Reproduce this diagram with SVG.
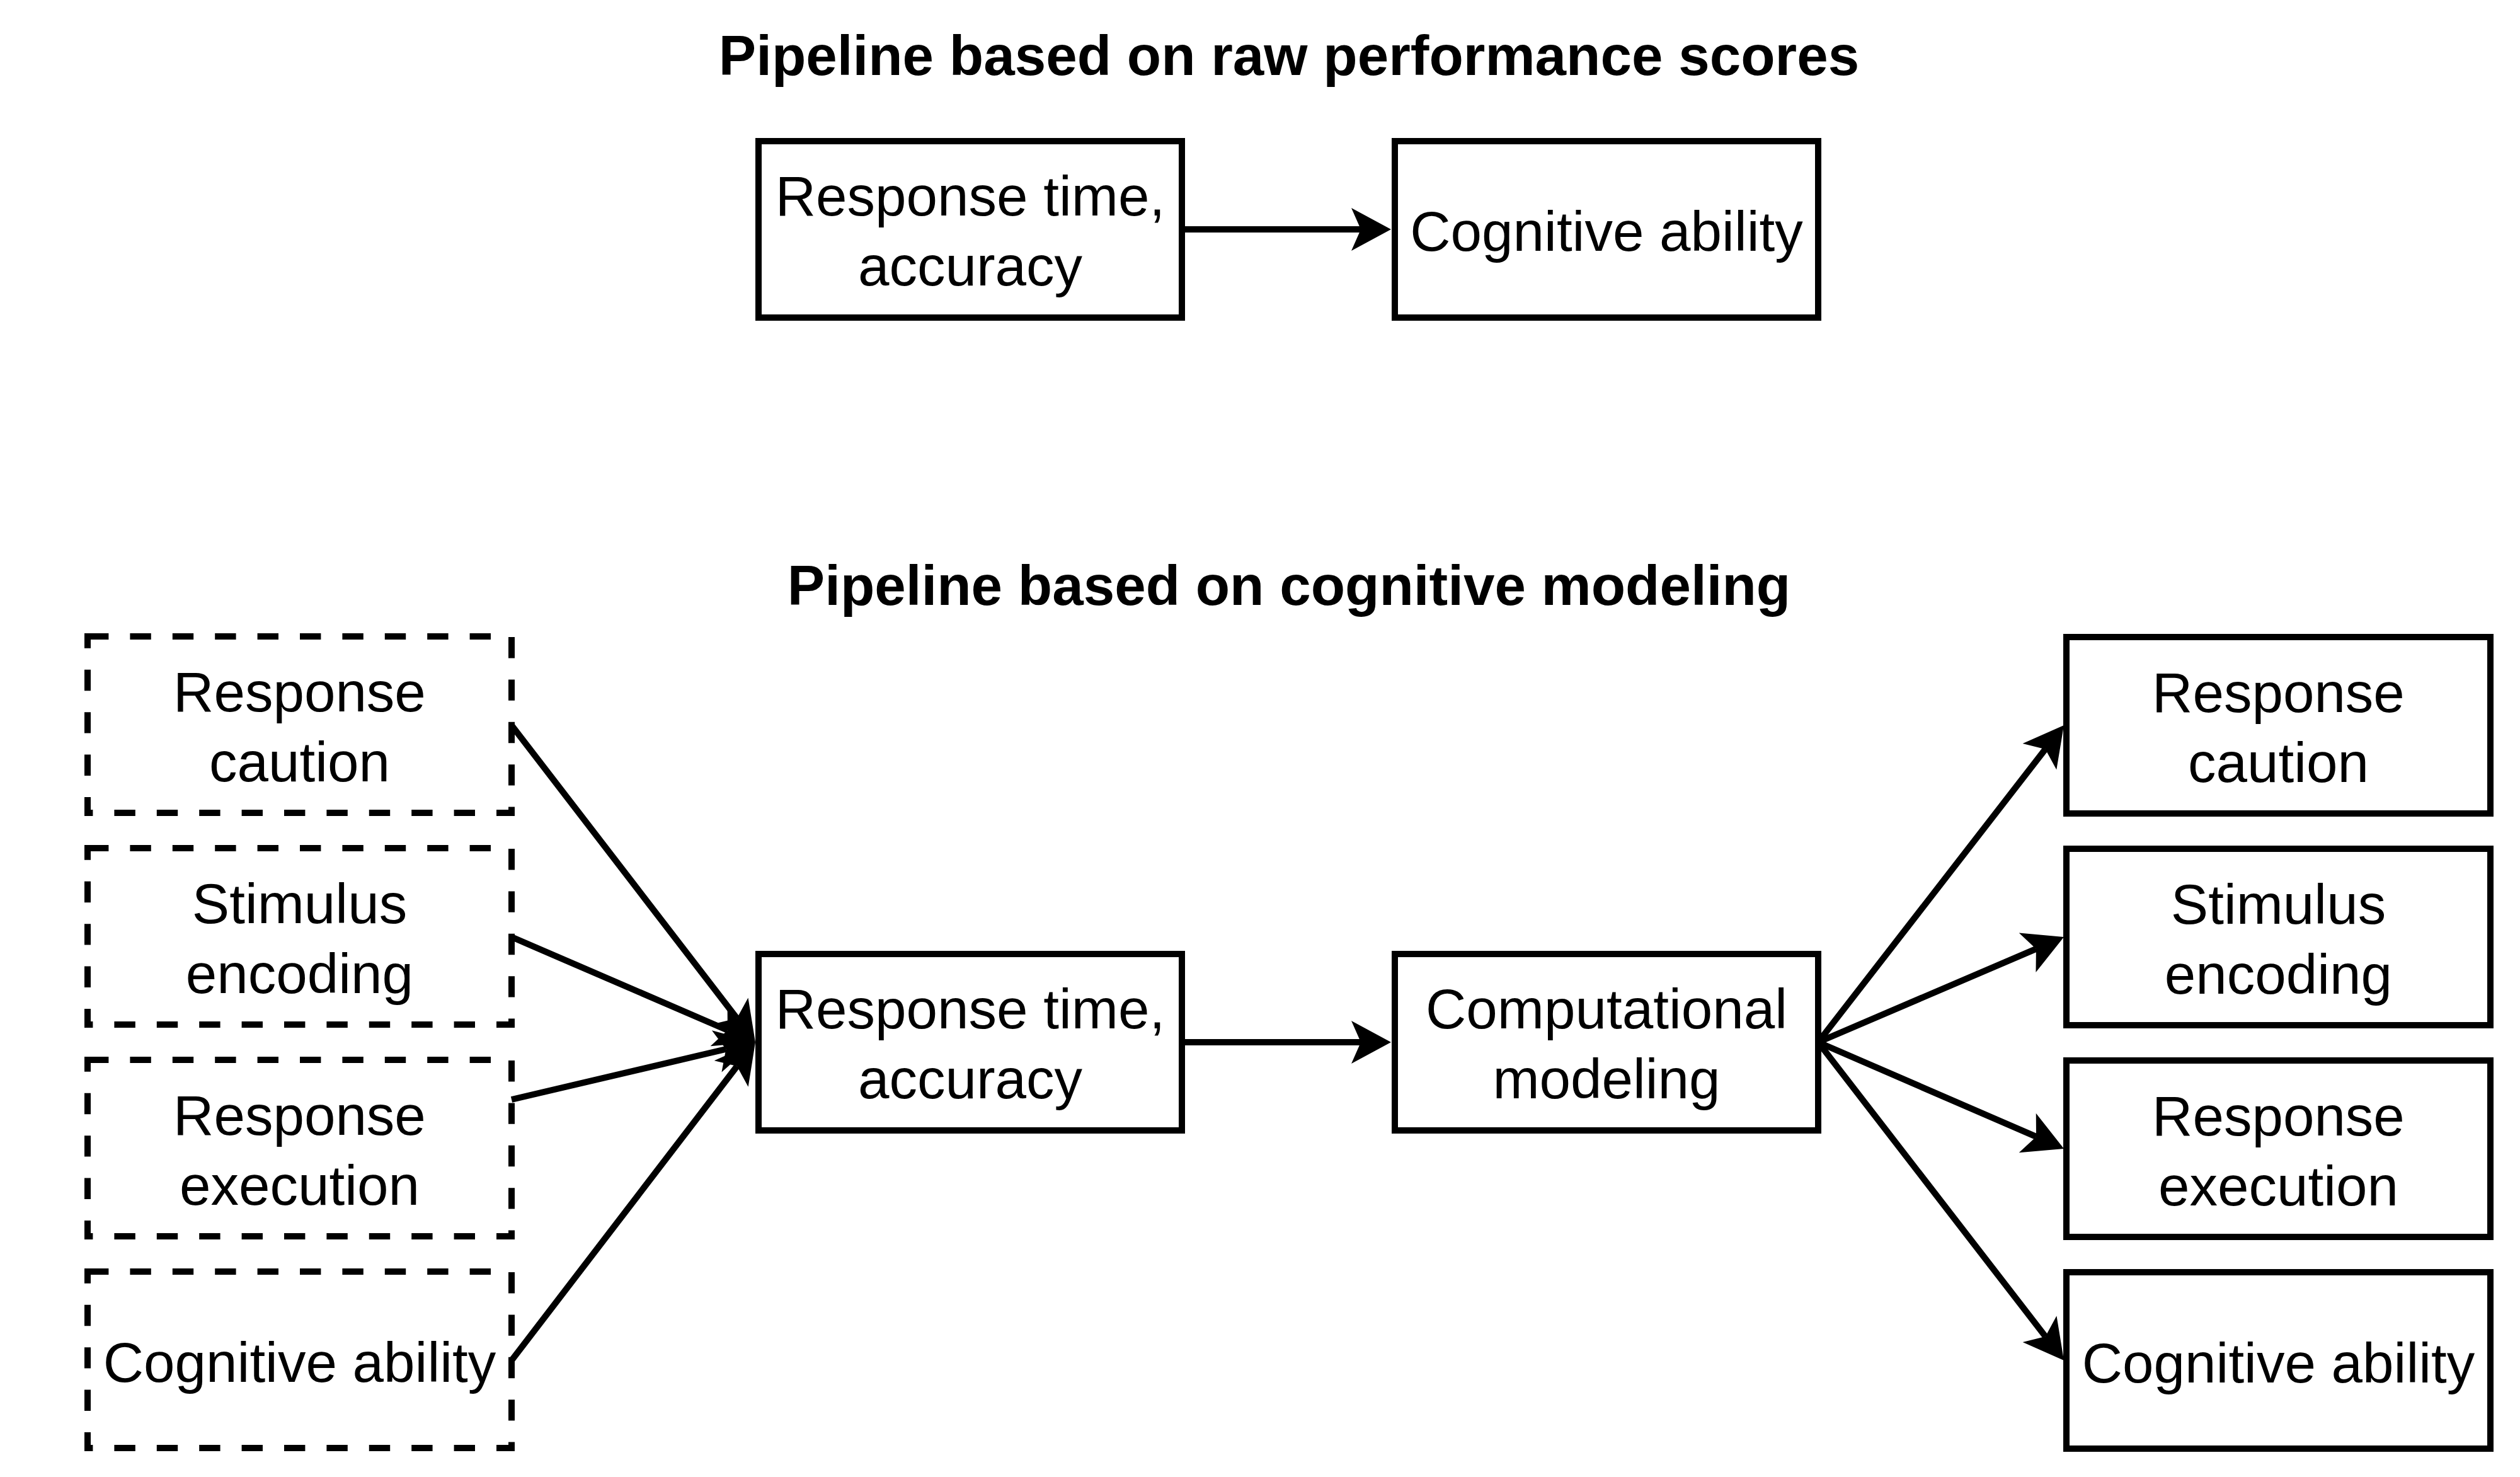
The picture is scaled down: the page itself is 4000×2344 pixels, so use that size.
<svg xmlns="http://www.w3.org/2000/svg" width="4000" height="2344" viewBox="0 0 4000 2344">
  <style>
    .box { fill: #ffffff; stroke: #000000; stroke-width: 10; }
    .dash { fill: #ffffff; stroke: #000000; stroke-width: 10; stroke-dasharray: 33.4 34; }
    .lbl { font-family: "Liberation Sans", Arial, Helvetica, sans-serif; font-size: 89px; fill: #000000; text-anchor: middle; }
    .title { font-family: "Liberation Sans", Arial, Helvetica, sans-serif; font-size: 89px; font-weight: bold; fill: #000000; text-anchor: middle; }
    .edge { fill: none; stroke: #000000; stroke-width: 10; marker-end: url(#arrow); }
  </style>
  <defs>
    <marker id="arrow" markerUnits="userSpaceOnUse" markerWidth="63" markerHeight="68" viewBox="0 0 63 68" refX="15" refY="34" orient="auto" overflow="visible">
      <path d="M0,0 L63,34 L0,68 L15,34 Z" fill="#000000"/>
    </marker>
  </defs>
  <rect x="0" y="0" width="4000" height="2344" fill="#ffffff"/>

  <g id="title-raw">
    <text class="title" x="2046" y="119">Pipeline based on raw performance scores</text>
  </g>
  <g id="title-model">
    <text class="title" x="2046" y="960">Pipeline based on cognitive modeling</text>
  </g>

  <g id="raw-rt">
    <rect class="box" x="1204" y="224" width="672" height="280"/>
    <text class="lbl" x="1540" y="342">Response time,</text>
    <text class="lbl" x="1540" y="453">accuracy</text>
  </g>
  <g id="raw-ability">
    <rect class="box" x="2214" y="224" width="672" height="280"/>
    <text class="lbl" x="2550" y="398">Cognitive ability</text>
  </g>

  <g id="latent-caution">
    <rect class="dash" x="139" y="1010" width="673" height="280"/>
    <text class="lbl" x="475.5" y="1129">Response</text>
    <text class="lbl" x="475.5" y="1240">caution</text>
  </g>
  <g id="latent-encoding">
    <rect class="dash" x="139" y="1346" width="673" height="280"/>
    <text class="lbl" x="475.5" y="1465">Stimulus</text>
    <text class="lbl" x="475.5" y="1576">encoding</text>
  </g>
  <g id="latent-execution">
    <rect class="dash" x="139" y="1682" width="673" height="280"/>
    <text class="lbl" x="475.5" y="1801">Response</text>
    <text class="lbl" x="475.5" y="1912">execution</text>
  </g>
  <g id="latent-ability">
    <rect class="dash" x="139" y="2018" width="673" height="280"/>
    <text class="lbl" x="475.5" y="2193">Cognitive ability</text>
  </g>

  <g id="model-rt">
    <rect class="box" x="1204" y="1514" width="672" height="280"/>
    <text class="lbl" x="1540" y="1632">Response time,</text>
    <text class="lbl" x="1540" y="1743">accuracy</text>
  </g>
  <g id="model-comp">
    <rect class="box" x="2214" y="1514" width="672" height="280"/>
    <text class="lbl" x="2550" y="1632">Computational</text>
    <text class="lbl" x="2550" y="1743">modeling</text>
  </g>

  <g id="est-caution">
    <rect class="box" x="3280" y="1011" width="673" height="280"/>
    <text class="lbl" x="3616.5" y="1130">Response</text>
    <text class="lbl" x="3616.5" y="1241">caution</text>
  </g>
  <g id="est-encoding">
    <rect class="box" x="3280" y="1347" width="673" height="280"/>
    <text class="lbl" x="3616.5" y="1466">Stimulus</text>
    <text class="lbl" x="3616.5" y="1577">encoding</text>
  </g>
  <g id="est-execution">
    <rect class="box" x="3280" y="1683" width="673" height="280"/>
    <text class="lbl" x="3616.5" y="1802">Response</text>
    <text class="lbl" x="3616.5" y="1913">execution</text>
  </g>
  <g id="est-ability">
    <rect class="box" x="3280" y="2019" width="673" height="280"/>
    <text class="lbl" x="3616.5" y="2194">Cognitive ability</text>
  </g>

  <g id="connectors">
    <path class="edge" d="M1876,364 L2160,364"/>
    <path class="edge" d="M1876,1654 L2160,1654"/>
    <path class="edge" d="M812,1151 L1169.7,1616"/>
    <path class="edge" d="M812,1487 L1154.9,1635"/>
    <path class="edge" d="M812,1745 L1152.3,1665"/>
    <path class="edge" d="M812,2159 L1169.8,1692.1"/>
    <path class="edge" d="M2886,1654 L3246.6,1188.9"/>
    <path class="edge" d="M2886,1654 L3231.9,1505.9"/>
    <path class="edge" d="M2886,1654 L3232,1803.9"/>
    <path class="edge" d="M2886,1654 L3246.7,2121"/>
  </g>
</svg>
